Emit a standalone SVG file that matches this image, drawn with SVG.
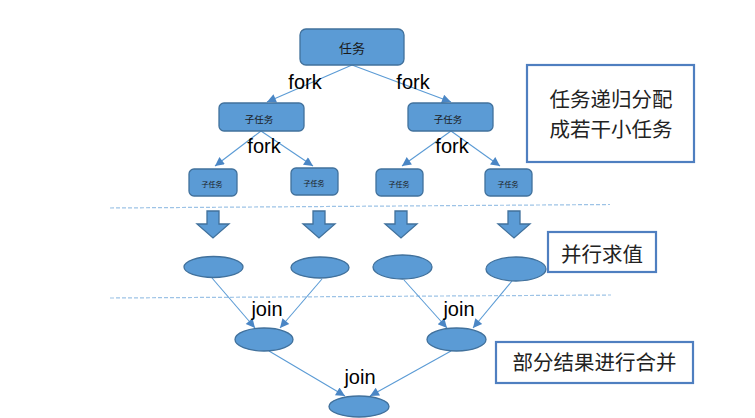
<svg xmlns="http://www.w3.org/2000/svg" width="755" height="418" viewBox="0 0 755 418">
<defs>
<marker id="ah" viewBox="0 0 10 10" refX="10" refY="5" markerWidth="11" markerHeight="9" markerUnits="userSpaceOnUse" orient="auto">
<path d="M0,0 L10,5 L0,10 z" fill="#4a86c5"/>
</marker>
<style>
.node{fill:#5b9bd5;stroke:#41719c;stroke-width:1.3}
.lbl{fill:#fff;stroke:#4f7fc0;stroke-width:2.2}
.edge{stroke:#5b9bd5;stroke-width:1.1;fill:none;marker-end:url(#ah)}
.dash{stroke:#9dc3e6;stroke-width:1.2;stroke-dasharray:4 2;fill:none}
.ntx{font-family:"Noto Sans CJK SC","Liberation Sans",sans-serif;fill:#1a1a1a;text-anchor:middle}
.en{font-family:"Liberation Sans","DejaVu Sans",sans-serif;font-size:20px;fill:#000;text-anchor:middle}
.ltx{font-family:"Noto Sans CJK SC",sans-serif;font-size:20.5px;fill:#222;text-anchor:middle}
</style>
</defs>
<rect width="755" height="418" fill="#fff"/>

<g id="dividers">
<path class="dash" d="M110,208 L610,204.5"/>
<path class="dash" d="M110,298 L611,295"/>
</g>

<g id="connectors">
<line class="edge" x1="352" y1="65" x2="267" y2="102"/>
<line class="edge" x1="352" y1="65" x2="451" y2="102"/>
<line class="edge" x1="261" y1="131" x2="215" y2="166"/>
<line class="edge" x1="261" y1="131" x2="313" y2="166"/>
<line class="edge" x1="451" y1="131" x2="402" y2="166"/>
<line class="edge" x1="451" y1="131" x2="500" y2="166"/>
<line class="edge" x1="212" y1="278" x2="255" y2="328"/>
<line class="edge" x1="322" y1="279" x2="280" y2="328"/>
<line class="edge" x1="404" y1="280" x2="447" y2="328"/>
<line class="edge" x1="512" y1="281" x2="473" y2="328"/>
<line class="edge" x1="269" y1="351" x2="345" y2="396"/>
<line class="edge" x1="451" y1="351" x2="370" y2="396"/>
</g>

<g id="edge-labels">
<text class="en" x="305" y="89">fork</text>
<text class="en" x="413" y="89">fork</text>
<text class="en" x="264" y="153">fork</text>
<text class="en" x="452" y="153">fork</text>
<text class="en" x="267" y="316">join</text>
<text class="en" x="459" y="316">join</text>
<text class="en" x="360" y="384">join</text>
</g>

<g id="task">
<rect class="node" x="300" y="29" width="104" height="36" rx="6"/>
<text class="ntx" x="352" y="53" font-size="13">任务</text>
</g>
<g id="subtask-l">
<rect class="node" x="219" y="103" width="85" height="28" rx="5"/>
<text class="ntx" x="259" y="123" font-size="9.5">子任务</text>
</g>
<g id="subtask-r">
<rect class="node" x="408" y="103" width="85" height="28" rx="5"/>
<text class="ntx" x="448" y="123" font-size="9.5">子任务</text>
</g>
<g id="leaf1">
<rect class="node" x="189" y="169" width="48" height="27" rx="5"/>
<text class="ntx" x="212" y="187" font-size="7">子任务</text>
</g>
<g id="leaf2">
<rect class="node" x="291" y="168" width="47" height="27" rx="5"/>
<text class="ntx" x="314" y="186" font-size="7">子任务</text>
</g>
<g id="leaf3">
<rect class="node" x="376" y="169" width="47" height="27" rx="5"/>
<text class="ntx" x="399" y="187" font-size="7">子任务</text>
</g>
<g id="leaf4">
<rect class="node" x="485" y="169" width="47" height="27" rx="5"/>
<text class="ntx" x="508" y="187" font-size="7">子任务</text>
</g>

<g id="down-arrows">
<path class="node" d="M207,211 h12 v13 h10 l-16,14 l-16,-14 h10 z"/>
<path class="node" d="M313,211 h12 v13 h10 l-16,14 l-16,-14 h10 z"/>
<path class="node" d="M395,211 h12 v13 h10 l-16,14 l-16,-14 h10 z"/>
<path class="node" d="M508,211 h12 v13 h10 l-16,14 l-16,-14 h10 z"/>
</g>

<g id="val1"><ellipse class="node" cx="213.5" cy="267" rx="29.5" ry="10.5"/></g>
<g id="val2"><ellipse class="node" cx="320" cy="267.5" rx="29" ry="10.5"/></g>
<g id="val3"><ellipse class="node" cx="402.5" cy="267" rx="29.5" ry="12"/></g>
<g id="val4"><ellipse class="node" cx="516" cy="269" rx="30" ry="12"/></g>
<g id="merge-l"><ellipse class="node" cx="264" cy="339.5" rx="29" ry="11.5"/></g>
<g id="merge-r"><ellipse class="node" cx="456.5" cy="339.5" rx="29.5" ry="11.5"/></g>
<g id="result"><ellipse class="node" cx="359" cy="406.5" rx="30" ry="10.5"/></g>

<g id="note-split">
<rect class="lbl" x="527" y="65" width="167" height="97"/>
<text class="ltx" x="611" y="107" font-size="20">任务递归分配</text>
<text class="ltx" x="611" y="137" font-size="20">成若干小任务</text>
</g>
<g id="note-parallel">
<rect class="lbl" x="548" y="232" width="108" height="40"/>
<text class="ltx" x="602" y="262">并行求值</text>
</g>
<g id="note-merge">
<rect class="lbl" x="496" y="342" width="197" height="41"/>
<text class="ltx" x="594.5" y="370">部分结果进行合并</text>
</g>
</svg>
